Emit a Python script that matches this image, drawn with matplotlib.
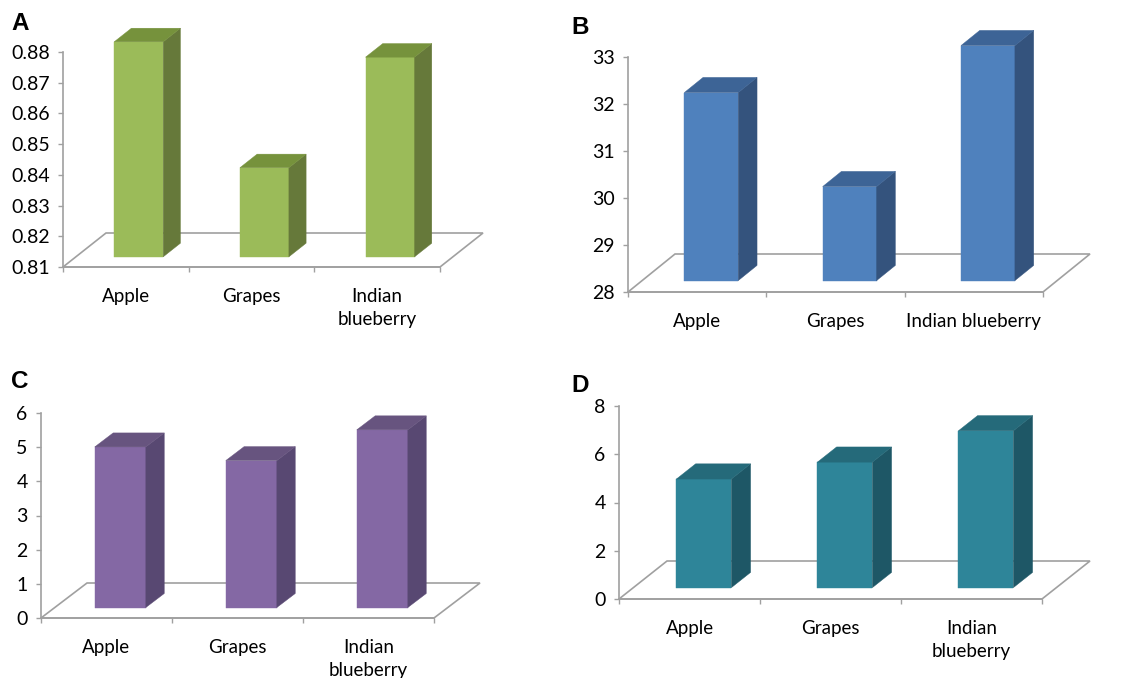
import numpy as np
from matplotlib import pyplot as plt
from matplotlib.patches import Polygon

"""

Four Excel-style 3D column charts (panels A-D)
comparing apple, grapes and indian blueberry

"""

W, H = 1132, 678
DPI = 100

categories = ["Apple", "Grapes", "Indian\nblueberry"]
categories_b = ["Apple", "Grapes", "Indian blueberry"]

values_a = [0.880, 0.839, 0.875]
values_b = [32.0, 30.0, 33.0]
values_c = [4.7, 4.3, 5.2]
values_d = [4.5, 5.2, 6.5]

ticks_a = [0.81, 0.82, 0.83, 0.84, 0.85, 0.86, 0.87, 0.88]
ticks_b = [28, 29, 30, 31, 32, 33]
ticks_c = [0, 1, 2, 3, 4, 5, 6]
ticks_d = [0, 2, 4, 6, 8]

FLOOR_COLOR = "#a0a0a0"
BAR_DEPTH = (0.3, 0.7)   # front / back of the columns as a fraction of floor depth
BAR_WIDTH = 0.39         # fraction of one category slot


def panel(fig, letter, letter_xy, rect, depth, values, ticks, fmt, labels, colors):
    """Draw one pseudo 3D column chart.

    rect: (left, top, right, bottom) of the front plane in pixels
    depth: (dx, dy) of the floor depth in pixels
    colors: (front, side, top)
    """
    left, top, right, bottom = rect
    ax = fig.add_axes([left / W, 1 - bottom / H, (right - left) / W, (bottom - top) / H])
    ymin, ymax = ticks[0], ticks[-1]
    n = len(values)
    ax.set_xlim(0, n)
    ax.set_ylim(ymin, ymax)

    # depth offset in data units
    ddx = depth[0] / ((right - left) / n)
    ddy = depth[1] / ((bottom - top) / (ymax - ymin))

    def p(x, y, d):
        return (x + d * ddx, y + d * ddy)

    # floor
    floor = [p(0, ymin, 0), p(n, ymin, 0), p(n, ymin, 1), p(0, ymin, 1)]
    ax.add_patch(Polygon(floor, closed=True, facecolor="white", edgecolor=FLOOR_COLOR,
                         linewidth=1.2, clip_on=False, zorder=1))

    front, side, topc = colors
    d0, d1 = BAR_DEPTH
    for i, v in enumerate(values):
        x0 = i + 0.5 - BAR_WIDTH / 2
        x1 = i + 0.5 + BAR_WIDTH / 2
        faces = [
            ([p(x0, ymin, d0), p(x1, ymin, d0), p(x1, v, d0), p(x0, v, d0)], front),
            ([p(x1, ymin, d0), p(x1, ymin, d1), p(x1, v, d1), p(x1, v, d0)], side),
            ([p(x0, v, d0), p(x1, v, d0), p(x1, v, d1), p(x0, v, d1)], topc),
        ]
        for pts, c in faces:
            ax.add_patch(Polygon(pts, closed=True, facecolor=c, edgecolor=c,
                                 linewidth=0.3, clip_on=False, zorder=3))

    # axes styling
    ax.patch.set_visible(False)
    for s in ["top", "right"]:
        ax.spines[s].set_visible(False)
    for s in ["left", "bottom"]:
        ax.spines[s].set_color(FLOOR_COLOR)
        ax.spines[s].set_linewidth(1.2)
    ax.set_yticks(ticks)
    ax.set_yticklabels([fmt.format(t) for t in ticks])
    ax.tick_params(axis="y", direction="out", length=3.6, width=1, color=FLOOR_COLOR,
                   labelsize=14, pad=6)
    ax.set_xticks(np.arange(n + 1))
    ax.set_xticklabels([])
    ax.tick_params(axis="x", direction="out", length=3.6, width=1, color=FLOOR_COLOR)

    for i, lab in enumerate(labels):
        ax.annotate(lab, xy=(i + 0.5, ymin), xytext=(0, -21), textcoords="offset pixels",
                    ha="center", va="top", fontsize=13.5, linespacing=1.45,
                    annotation_clip=False)

    fig.text(letter_xy[0] / W, 1 - letter_xy[1] / H, letter, ha="center", va="center",
             fontsize=17.5, fontweight="bold", family="Liberation Sans")
    return ax


def main():
    plt.rcParams["font.family"] = ["Lato", "DejaVu Sans"]
    fig = plt.figure(figsize=(W / DPI, H / DPI), dpi=DPI)

    panel(fig, "A", (20, 23), (63, 52, 440, 267), (43, 34), values_a, ticks_a, "{:.2f}",
          categories, ("#9bbb59", "#66793a", "#76923c"))
    panel(fig, "B", (580, 28), (628, 57, 1043, 292), (47, 38), values_b, ticks_b, "{:d}",
          categories_b, ("#4f81bd", "#34537d", "#3d6496"))
    panel(fig, "C", (20, 381), (41, 413, 434, 618), (46, 35), values_c, ticks_c, "{:d}",
          categories, ("#8468a4", "#584872", "#67547f"))
    panel(fig, "D", (580, 386), (619, 406, 1042, 599), (48, 38), values_d, ticks_d, "{:d}",
          categories, ("#2e8599", "#1e5766", "#256a7a"))

    fig.savefig("out.png", dpi=DPI)


if __name__ == "__main__":
    main()
